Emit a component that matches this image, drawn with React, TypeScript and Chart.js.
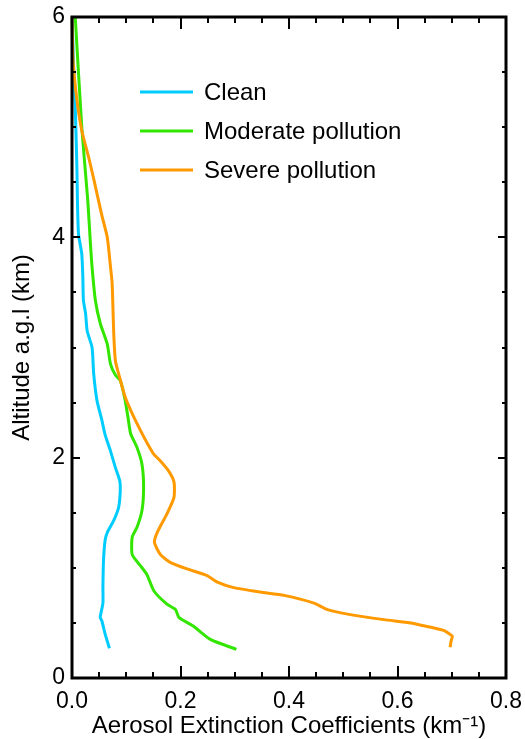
import React, { useEffect, useRef } from "react";
import { Chart, registerables } from "chart.js";

Chart.register(...registerables);

// Altitude (km) and extinction (km^-1), bottom to top
const cleanAltitude = [0.27, 0.40, 0.52, 0.55, 0.68, 0.82, 1.06, 1.25, 1.32, 1.43, 1.55, 1.70, 1.79, 1.91, 2.06, 2.21, 2.34, 2.52, 2.76, 3.0, 3.15, 3.31, 3.43, 3.64, 3.85, 4.03, 4.34, 4.64, 5.18, 5.55, 5.85, 6.0];
const cleanExt = [0.069, 0.061, 0.055, 0.052, 0.057, 0.057, 0.058, 0.061, 0.065, 0.077, 0.086, 0.089, 0.088, 0.080, 0.071, 0.061, 0.055, 0.046, 0.040, 0.037, 0.028, 0.025, 0.021, 0.020, 0.018, 0.012, 0.010, 0.009, 0.006, 0.003, 0.001, 0.0];

const moderateAltitude = [0.26, 0.35, 0.47, 0.55, 0.62, 0.67, 0.79, 0.94, 1.02, 1.12, 1.28, 1.37, 1.52, 1.73, 1.94, 2.09, 2.22, 2.34, 2.52, 2.70, 2.75, 2.85, 3.03, 3.22, 3.43, 3.73, 3.94, 4.34, 5.0, 6.0];
const moderateExt = [0.303, 0.255, 0.224, 0.197, 0.191, 0.175, 0.151, 0.138, 0.126, 0.111, 0.111, 0.120, 0.129, 0.132, 0.129, 0.120, 0.108, 0.104, 0.098, 0.089, 0.080, 0.071, 0.065, 0.052, 0.043, 0.037, 0.034, 0.029, 0.018, 0.006];

const severeAltitude = [0.28, 0.34, 0.38, 0.43, 0.46, 0.50, 0.53, 0.58, 0.62, 0.68, 0.75, 0.78, 0.82, 0.87, 0.93, 0.99, 1.05, 1.12, 1.23, 1.32, 1.49, 1.64, 1.78, 1.88, 1.97, 2.03, 2.11, 2.22, 2.40, 2.55, 2.76, 2.88, 3.12, 3.58, 3.73, 4.0, 4.2, 4.53, 4.72, 4.97, 5.25, 5.6, 6.0];
const severeExt = [0.697, 0.699, 0.701, 0.686, 0.662, 0.625, 0.575, 0.508, 0.471, 0.446, 0.391, 0.347, 0.298, 0.268, 0.249, 0.212, 0.181, 0.163, 0.152, 0.157, 0.175, 0.188, 0.188, 0.178, 0.163, 0.151, 0.141, 0.129, 0.111, 0.098, 0.086, 0.080, 0.077, 0.074, 0.071, 0.065, 0.055, 0.040, 0.031, 0.018, 0.009, 0.002, 0.0];

const seriesLabels = ["Clean", "Moderate pollution", "Severe pollution"];
const seriesColors = ["#00CCFF", "#33E600", "#FF9900"];

const xTickValues = [0, 0.2, 0.4, 0.6, 0.8];
const yTickValues = [0, 2, 4, 6];

const FONT = "'Liberation Sans', Arial, Helvetica, sans-serif";

const toPoints = (xs: number[], ys: number[]) => xs.map((x, i) => ({ x, y: ys[i] }));

const framePlugin = {
  id: "frameTicks",
  afterDraw(chart: any) {
    const { ctx, chartArea } = chart;
    const xs = chart.scales.x;
    const ys = chart.scales.y;
    const L = Math.round(chartArea.left);
    const R = Math.round(chartArea.right);
    const T = Math.round(chartArea.top);
    const B = Math.round(chartArea.bottom);
    ctx.save();
    ctx.strokeStyle = "#000000";
    ctx.lineWidth = 3;
    ctx.strokeRect(L, T, R - L, B - T);
    ctx.fillStyle = "#000000";
    for (let i = 0; i <= 16; i++) {
      const v = i * 0.05;
      const px = Math.round(xs.getPixelForValue(v));
      const len = i % 4 === 0 ? 12 : 6;
      ctx.fillRect(px - 1, B - len, 2, len);
      ctx.fillRect(px - 1, T, 2, len);
    }
    for (let i = 0; i <= 12; i++) {
      const v = i * 0.5;
      const py = Math.round(ys.getPixelForValue(v));
      const len = i % 4 === 0 ? 8 : 4;
      ctx.fillRect(L, py - 1, len, 2);
      ctx.fillRect(R - len, py - 1, len, 2);
    }
    // legend
    const x0 = chartArea.left + 68;
    const x1 = x0 + 53;
    let y = chartArea.top + 75;
    chart.data.datasets.forEach((ds: any) => {
      ctx.strokeStyle = ds.borderColor;
      ctx.lineWidth = 3;
      ctx.beginPath();
      ctx.moveTo(x0, y);
      ctx.lineTo(x1, y);
      ctx.stroke();
      ctx.fillStyle = "#000";
      ctx.font = `24px ${FONT}`;
      ctx.textBaseline = "middle";
      ctx.textAlign = "left";
      ctx.fillText(ds.label, x1 + 11, y + 1);
      y += 39;
    });
    ctx.restore();
  },
};

export default function App() {
  const ref = useRef<HTMLCanvasElement>(null);
  useEffect(() => {
    if (!ref.current) return;
    const alts = [cleanAltitude, moderateAltitude, severeAltitude];
    const exts = [cleanExt, moderateExt, severeExt];
    const chart = new Chart(ref.current, {
      type: "scatter",
      data: {
        datasets: seriesLabels.map((label, i) => ({
          label,
          data: toPoints(exts[i], alts[i]),
          showLine: true,
          borderColor: seriesColors[i],
          backgroundColor: seriesColors[i],
          borderWidth: 3,
          pointRadius: 0,
          tension: 0.2,
          order: 3 - i,
          clip: 6,
        })),
      },
      options: {
        animation: false,
        responsive: false,
        events: [],
        layout: { padding: { top: 17, right: 19, left: 0, bottom: 0 } },
        plugins: { legend: { display: false }, tooltip: { enabled: false } },
        scales: {
          x: {
            type: "linear",
            min: 0,
            max: 0.8,
            afterBuildTicks: (s: any) => {
              s.ticks = xTickValues.map((v) => ({ value: v }));
            },
            afterFit: (s: any) => {
              s.height = 61;
              s.paddingLeft = 0;
              s.paddingRight = 0;
            },
            grid: { display: false, drawTicks: false, tickLength: 0 },
            border: { display: true, color: "#000", width: 2 },
            ticks: {
              color: "#000",
              font: { family: FONT, size: 23, lineHeight: 1 },
              padding: 12,
              maxRotation: 0,
              callback: (v: any) => Number(v).toFixed(1),
            },
            title: {
              display: true,
              text: "Aerosol Extinction Coefficients (km\u207B\u00B9)",
              color: "#000",
              font: { family: FONT, size: 24, lineHeight: 1 },
              padding: { top: 0, bottom: 1 },
            },
          },
          y: {
            type: "linear",
            min: 0,
            max: 6,
            afterBuildTicks: (s: any) => {
              s.ticks = yTickValues.map((v) => ({ value: v }));
            },
            afterFit: (s: any) => {
              s.width = 72;
              s.paddingTop = 0;
              s.paddingBottom = 0;
            },
            grid: { display: false, drawTicks: false, tickLength: 0 },
            border: { display: true, color: "#000", width: 2 },
            ticks: {
              color: "#000",
              font: { family: FONT, size: 23, lineHeight: 1 },
              padding: 7,
              callback: (v: any) => String(v),
            },
            title: {
              display: true,
              text: "Altitude a.g.l (km)",
              color: "#000",
              font: { family: FONT, size: 24, lineHeight: 1 },
              padding: { top: 10, bottom: 0 },
            },
          },
        },
      },
      plugins: [framePlugin],
    });
    return () => chart.destroy();
  }, []);
  return (
    <div style={{ position: "absolute", left: 0, top: 0, width: 525, height: 739 }}>
      <canvas ref={ref} width={525} height={739} style={{ display: "block" }} />
    </div>
  );
}
